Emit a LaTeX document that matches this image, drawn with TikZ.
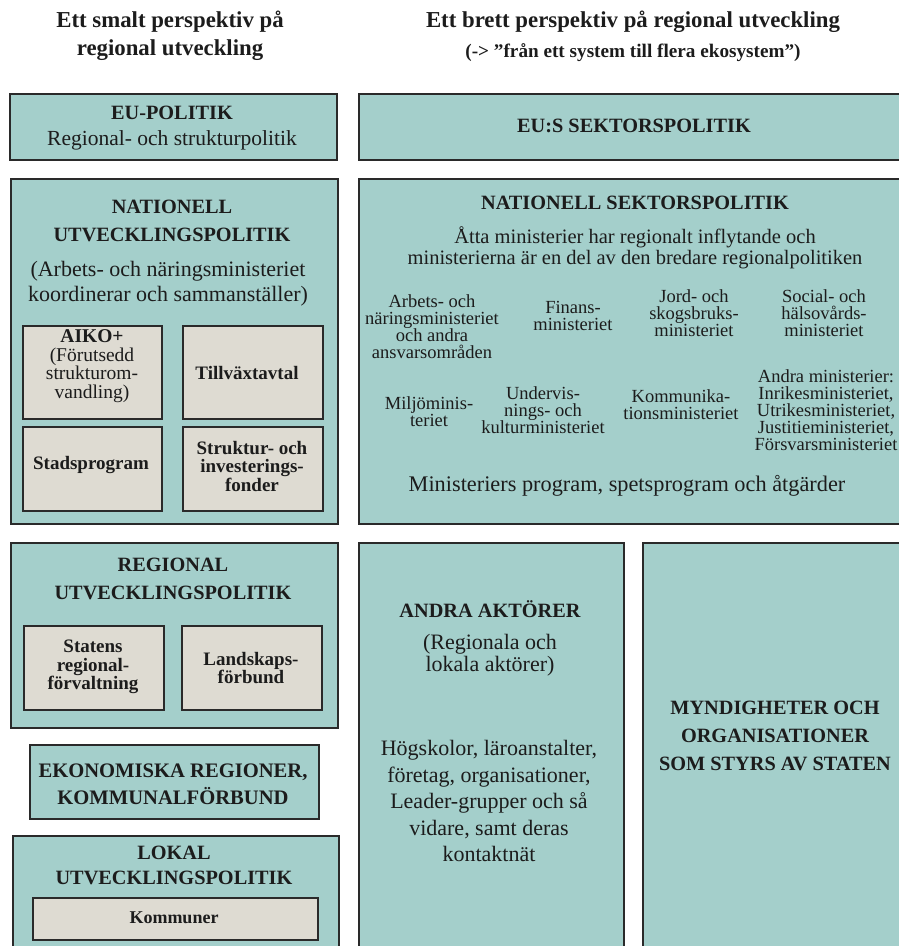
\documentclass[tikz,border=0pt]{standalone}
\usepackage{fontspec}
\setmainfont{Liberation Serif}
\definecolor{boxteal}{HTML}{A4CFCB}
\definecolor{boxbeige}{HTML}{DEDBD2}
\definecolor{edge}{HTML}{2A2A2A}
\definecolor{ink}{HTML}{1C1C1C}
\newcommand\fs[2]{\fontsize{#1}{#2}\selectfont}
\begin{document}
\begin{tikzpicture}[x=1pt,y=-1pt,
  outer/.style={draw=edge, line width=1.8pt, fill=boxteal, anchor=north west, inner sep=0pt},
  inner/.style={draw=edge, line width=1.6pt, fill=boxbeige, anchor=north west, inner sep=0pt},
  txt/.style={text=ink, align=center, inner sep=0pt},
  hdr/.style={txt, font=\fs{22.8}{28}\bfseries},
  ttl/.style={txt, font=\fs{20.3}{28}\bfseries},
  body/.style={txt, font=\fs{22}{25}},
  minis/.style={txt, font=\fs{18.5}{17}},
  inb/.style={txt, font=\fs{19}{18.5}\bfseries},
  inr/.style={txt, font=\fs{19.5}{18.5}},
]
\useasboundingbox (0,0) rectangle (899,946);
\clip (0,0) rectangle (899,946);

% headers
\node[hdr] (hl) at (170,36) {Ett smalt perspektiv på\\regional utveckling};
\node[hdr] (hr) at (633,22) {Ett brett perspektiv på regional utveckling};
\node[txt, font=\fs{19.2}{20}\bfseries] (hrs) at (633,53) {(-> ”från ett system till flera ekosystem”)};

% left column
\node[outer, minimum width=327, minimum height=66] (eu) at (9,93) {};
\node[ttl] (eut) at (172,113) {EU-POLITIK};
\node[body, font=\fs{21.5}{25}] (eus) at (172,140) {Regional- och strukturpolitik};

\node[outer, minimum width=327, minimum height=345] (nat) at (10,178) {};
\node[ttl] (natt) at (172,221) {NATIONELL\\UTVECKLINGSPOLITIK};
\node[body] (nats) at (168,284) {(Arbets- och näringsministeriet\\koordinerar och sammanställer)};

\node[inner, minimum width=139, minimum height=93] (aiko) at (22,325) {};
\node[inner, minimum width=140, minimum height=93] (tva) at (182,325) {};
\node[inner, minimum width=139, minimum height=84] (stad) at (22,426) {};
\node[inner, minimum width=140, minimum height=84] (sif) at (182,426) {};
\node[inr] (aikot) at (92,366) {\textbf{AIKO+}\\(Förutsedd\\strukturom-\\vandling)};
\node[inb] (tvat) at (247,373) {Tillväxtavtal};
\node[inb] (stadt) at (91,465) {Stadsprogram};
\node[inb] (sift) at (252,466) {Struktur- och\\investerings-\\fonder};

\node[outer, minimum width=327, minimum height=185] (reg) at (10,542) {};
\node[ttl] (regt) at (173,579) {REGIONAL\\UTVECKLINGSPOLITIK};
\node[inner, minimum width=140, minimum height=84] (srf) at (23,625) {};
\node[inner, minimum width=140, minimum height=84] (lsf) at (181,625) {};
\node[inb] (srft) at (93,667) {Statens\\regional-\\förvaltning};
\node[inb] (lsft) at (251,668) {Landskaps-\\förbund};

\node[outer, minimum width=289, minimum height=74] (ekr) at (29,744) {};
\node[ttl, font=\fs{20.6}{27}\bfseries] (ekrt) at (173,784) {EKONOMISKA REGIONER,\\KOMMUNALFÖRBUND};

\node[outer, minimum width=326, minimum height=130] (lok) at (12,835) {};
\node[ttl, font=\fs{20.3}{25}\bfseries] (lokt) at (174,865) {LOKAL\\UTVECKLINGSPOLITIK};
\node[inner, minimum width=285, minimum height=42] (kom) at (32,897) {};
\node[inb, font=\fs{18}{18}\bfseries] (komt) at (174,918) {Kommuner};

% right column
\node[outer, minimum width=553, minimum height=66] (eus2) at (358,93) {};
\node[ttl] (eus2t) at (634,126) {EU:S SEKTORSPOLITIK};

\node[outer, minimum width=553, minimum height=345] (nsp) at (358,178) {};
\node[ttl] (nspt) at (635,203) {NATIONELL SEKTORSPOLITIK};
\node[body, font=\fs{20.5}{21}] (nsps) at (635,248) {Åtta ministerier har regionalt inflytande och\\ministerierna är en del av den bredare regionalpolitiken};

\node[minis] (m1) at (432,327) {Arbets- och\\näringsministeriet\\och andra\\ansvarsområden};
\node[minis] (m2) at (573,316) {Finans-\\ministeriet};
\node[minis] (m3) at (694,313) {Jord- och\\skogsbruks-\\ministeriet};
\node[minis] (m4) at (824,313) {Social- och\\hälsovårds-\\ministeriet};
\node[minis] (m5) at (429,412) {Miljöminis-\\teriet};
\node[minis] (m6) at (543,410) {Undervis-\\nings- och\\kulturministeriet};
\node[minis] (m7) at (681,405) {Kommunika-\\tionsministeriet};
\node[minis] (m8) at (826,410) {Andra ministerier:\\Inrikesministeriet,\\Utrikesministeriet,\\Justitieministeriet,\\Försvarsministeriet};

\node[body, font=\fs{22.3}{25}] (prog) at (627,486) {Ministeriers program, spetsprogram och åtgärder};

\node[outer, minimum width=265, minimum height=420] (aa) at (358,542) {};
\node[ttl] (aat) at (490,609) {ANDRA AKTÖRER};
\node[body, font=\fs{22}{22}] (aas) at (490,655) {(Regionala och\\lokala aktörer)};
\node[body, font=\fs{22}{26.5}] (aab) at (489,801) {Högskolor, läroanstalter,\\företag, organisationer,\\Leader-grupper och så\\vidare, samt deras\\kontaktnät};

\node[outer, minimum width=269, minimum height=420] (myn) at (642,542) {};
\node[ttl] (mynt) at (775,736) {MYNDIGHETER OCH\\ORGANISATIONER\\SOM STYRS AV STATEN};
\end{tikzpicture}
\end{document}
